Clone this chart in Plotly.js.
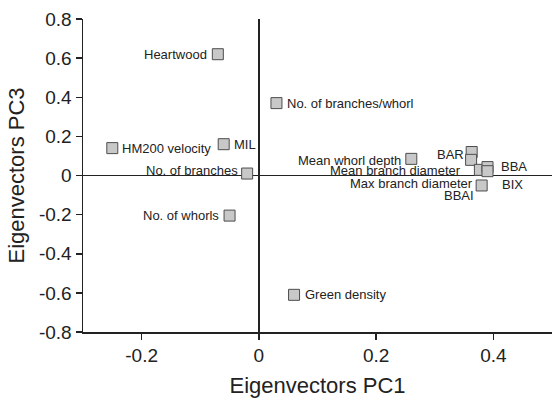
<!DOCTYPE html>
<html>
<head>
<meta charset="utf-8">
<script src="https://cdn.plot.ly/plotly-3.0.1.min.js"></script>
<style>html,body{margin:0;padding:0;background:#fff;}#chart{width:552px;height:398px;}</style>
</head>
<body>
<div id="chart"></div>
<script>
// Data
const labels = ["Heartwood", "No. of branches/whorl", "HM200 velocity", "MIL", "No. of branches",
  "No. of whorls", "Green density", "Mean whorl depth", "BAR", "BBAI",
  "Mean branch diameter", "BBA", "BIX", "Max branch diameter"];
const pc1 = [-0.07, 0.03, -0.25, -0.06, -0.02, -0.05, 0.06, 0.26, 0.363, 0.362, 0.377, 0.39, 0.39, 0.38];
const pc3 = [0.62, 0.37, 0.14, 0.16, 0.01, -0.205, -0.61, 0.085, 0.12, 0.08, 0.029, 0.043, 0.022, -0.051];

const xTickVals = [-0.2, 0, 0.2, 0.4];
const xTickText = ["-0.2", "0", "0.2", "0.4"];
const yTickVals = [-0.8, -0.6, -0.4, -0.2, 0, 0.2, 0.4, 0.6, 0.8];
const yTickText = ["-0.8", "-0.6", "-0.4", "-0.2", "0", "0.2", "0.4", "0.6", "0.8"];

// label placement styles: [xanchor, xshift, yshift]
const labelPlace = [
  ["right", -9, 0], ["left", 9, 0], ["left", 8, 0], ["left", 8, 0], ["right", -7, 3],
  ["right", -9, 0], ["left", 9, 0], ["right", -8, -2], ["right", -6, -2], ["center", -12, -36],
  ["right", -17, -1], ["left", 11, 1], ["left", 12, -13], ["right", -7, 2]
];

const trace = {
  x: pc1, y: pc3, type: "scatter", mode: "markers",
  marker: {symbol: "square", size: 11, color: "#c8c8c8", line: {color: "#4d4d4d", width: 1}},
  hoverinfo: "skip", cliponaxis: false
};

const annotations = labels.map((t, i) => ({
  x: pc1[i], y: pc3[i], xref: "x", yref: "y", text: t, showarrow: false,
  xanchor: labelPlace[i][0], yanchor: "middle",
  xshift: labelPlace[i][1], yshift: labelPlace[i][2],
  font: {family: "Liberation Sans, Arial, sans-serif", size: 13, color: "#222"}
}));

const axisCommon = {
  showgrid: false, zeroline: true, zerolinecolor: "#222", zerolinewidth: 1.5,
  showline: true, linecolor: "#222", linewidth: 1.5, mirror: false,
  ticks: "outside", ticklen: 6, tickwidth: 1.5, tickcolor: "#222",
  tickfont: {family: "Liberation Sans, Arial, sans-serif", size: 19, color: "#222"},
  automargin: false
};

const layout = {
  width: 552, height: 398,
  margin: {l: 83, r: 0, t: 19, b: 66},
  paper_bgcolor: "#fff", plot_bgcolor: "#fff",
  showlegend: false,
  xaxis: Object.assign({}, axisCommon, {
    range: [-0.3, 0.5], tickmode: "array", tickvals: xTickVals, ticktext: xTickText,
    title: {text: "Eigenvectors PC1", standoff: 12,
      font: {family: "Liberation Sans, Arial, sans-serif", size: 22, color: "#222"}}
  }),
  yaxis: Object.assign({}, axisCommon, {
    range: [-0.8, 0.8], tickmode: "array", tickvals: yTickVals, ticktext: yTickText,
    title: {text: "Eigenvectors PC3", standoff: 8,
      font: {family: "Liberation Sans, Arial, sans-serif", size: 22, color: "#222"}}
  }),
  annotations: annotations
};

Plotly.newPlot("chart", [trace], layout, {displayModeBar: false, staticPlot: true});
</script>
</body>
</html>
